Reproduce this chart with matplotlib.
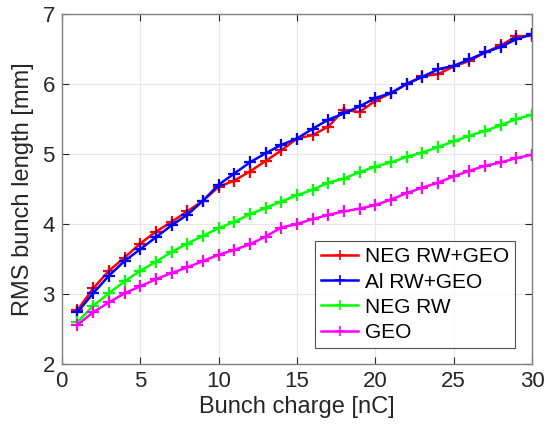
import numpy as np
import matplotlib.pyplot as plt

plt.rcParams['font.family'] = ['Liberation Sans', 'DejaVu Sans']

charge = np.arange(1, 31)
neg_rw_geo = [2.77, 3.08, 3.33, 3.52, 3.72, 3.89, 4.03, 4.18, 4.33, 4.53,
              4.62, 4.75, 4.90, 5.05, 5.22, 5.27, 5.39, 5.63, 5.60, 5.76,
              5.87, 6.00, 6.11, 6.14, 6.25, 6.33, 6.45, 6.55, 6.68, 6.69]
al_rw_geo = [2.74, 3.01, 3.26, 3.47, 3.64, 3.81, 3.98, 4.13, 4.33, 4.56,
             4.72, 4.88, 5.01, 5.13, 5.22, 5.36, 5.49, 5.58, 5.68, 5.80,
             5.87, 6.00, 6.10, 6.21, 6.26, 6.35, 6.45, 6.53, 6.64, 6.71]
neg_rw = [2.60, 2.83, 3.01, 3.18, 3.33, 3.46, 3.60, 3.72, 3.83, 3.94,
          4.03, 4.14, 4.23, 4.32, 4.41, 4.49, 4.59, 4.65, 4.74, 4.82,
          4.88, 4.96, 5.02, 5.10, 5.18, 5.26, 5.33, 5.41, 5.50, 5.56]
geo = [2.56, 2.74, 2.88, 3.01, 3.11, 3.21, 3.30, 3.38, 3.47, 3.56,
       3.63, 3.71, 3.82, 3.95, 4.00, 4.07, 4.13, 4.18, 4.22, 4.27,
       4.35, 4.44, 4.52, 4.59, 4.68, 4.76, 4.83, 4.88, 4.94, 4.99]

series = [('NEG RW+GEO', neg_rw_geo, '#ff0000'),
          ('Al RW+GEO', al_rw_geo, '#0000ff'),
          ('NEG RW', neg_rw, '#00ff00'),
          ('GEO', geo, '#ff00ff')]

fig = plt.figure(figsize=(5.47, 4.37), dpi=100)
ax = fig.add_axes([0.113, 0.167, 0.8596, 0.801])

for name, vals, col in series:
    ax.plot(charge, vals, color=col, lw=1.8, marker='+', ms=9, mew=1.6, label=name)

ax.set_xlim(0, 30)
ax.set_ylim(2, 7)
ax.set_xticks([0, 5, 10, 15, 20, 25, 30])
ax.set_yticks([2, 3, 4, 5, 6, 7])
ax.grid(True, color='#e6e6e6', lw=0.8)
ax.set_axisbelow(True)
ax.tick_params(direction='in', top=True, right=True, labelsize=16,
               colors='#262626', length=5, pad=5)
for s in ax.spines.values():
    s.set_color('#808080')
    s.set_linewidth(1.0)

ax.set_xlabel('Bunch charge [nC]', fontsize=17, color='#262626', labelpad=3)
ax.set_ylabel('RMS bunch length [mm]', fontsize=17, color='#262626', labelpad=6)

leg = ax.legend(loc='lower right', bbox_to_anchor=(0.964, 0.045), borderaxespad=0,
                fontsize=15, frameon=True, fancybox=False, handlelength=1.8,
                handletextpad=0.3, borderpad=0.3, labelspacing=0.3)
leg.get_frame().set_edgecolor('#262626')
leg.get_frame().set_linewidth(0.8)
for line in leg.get_lines():
    line.set_markersize(7)
    line.set_markeredgewidth(1.2)

fig.savefig('out.png', dpi=100)
